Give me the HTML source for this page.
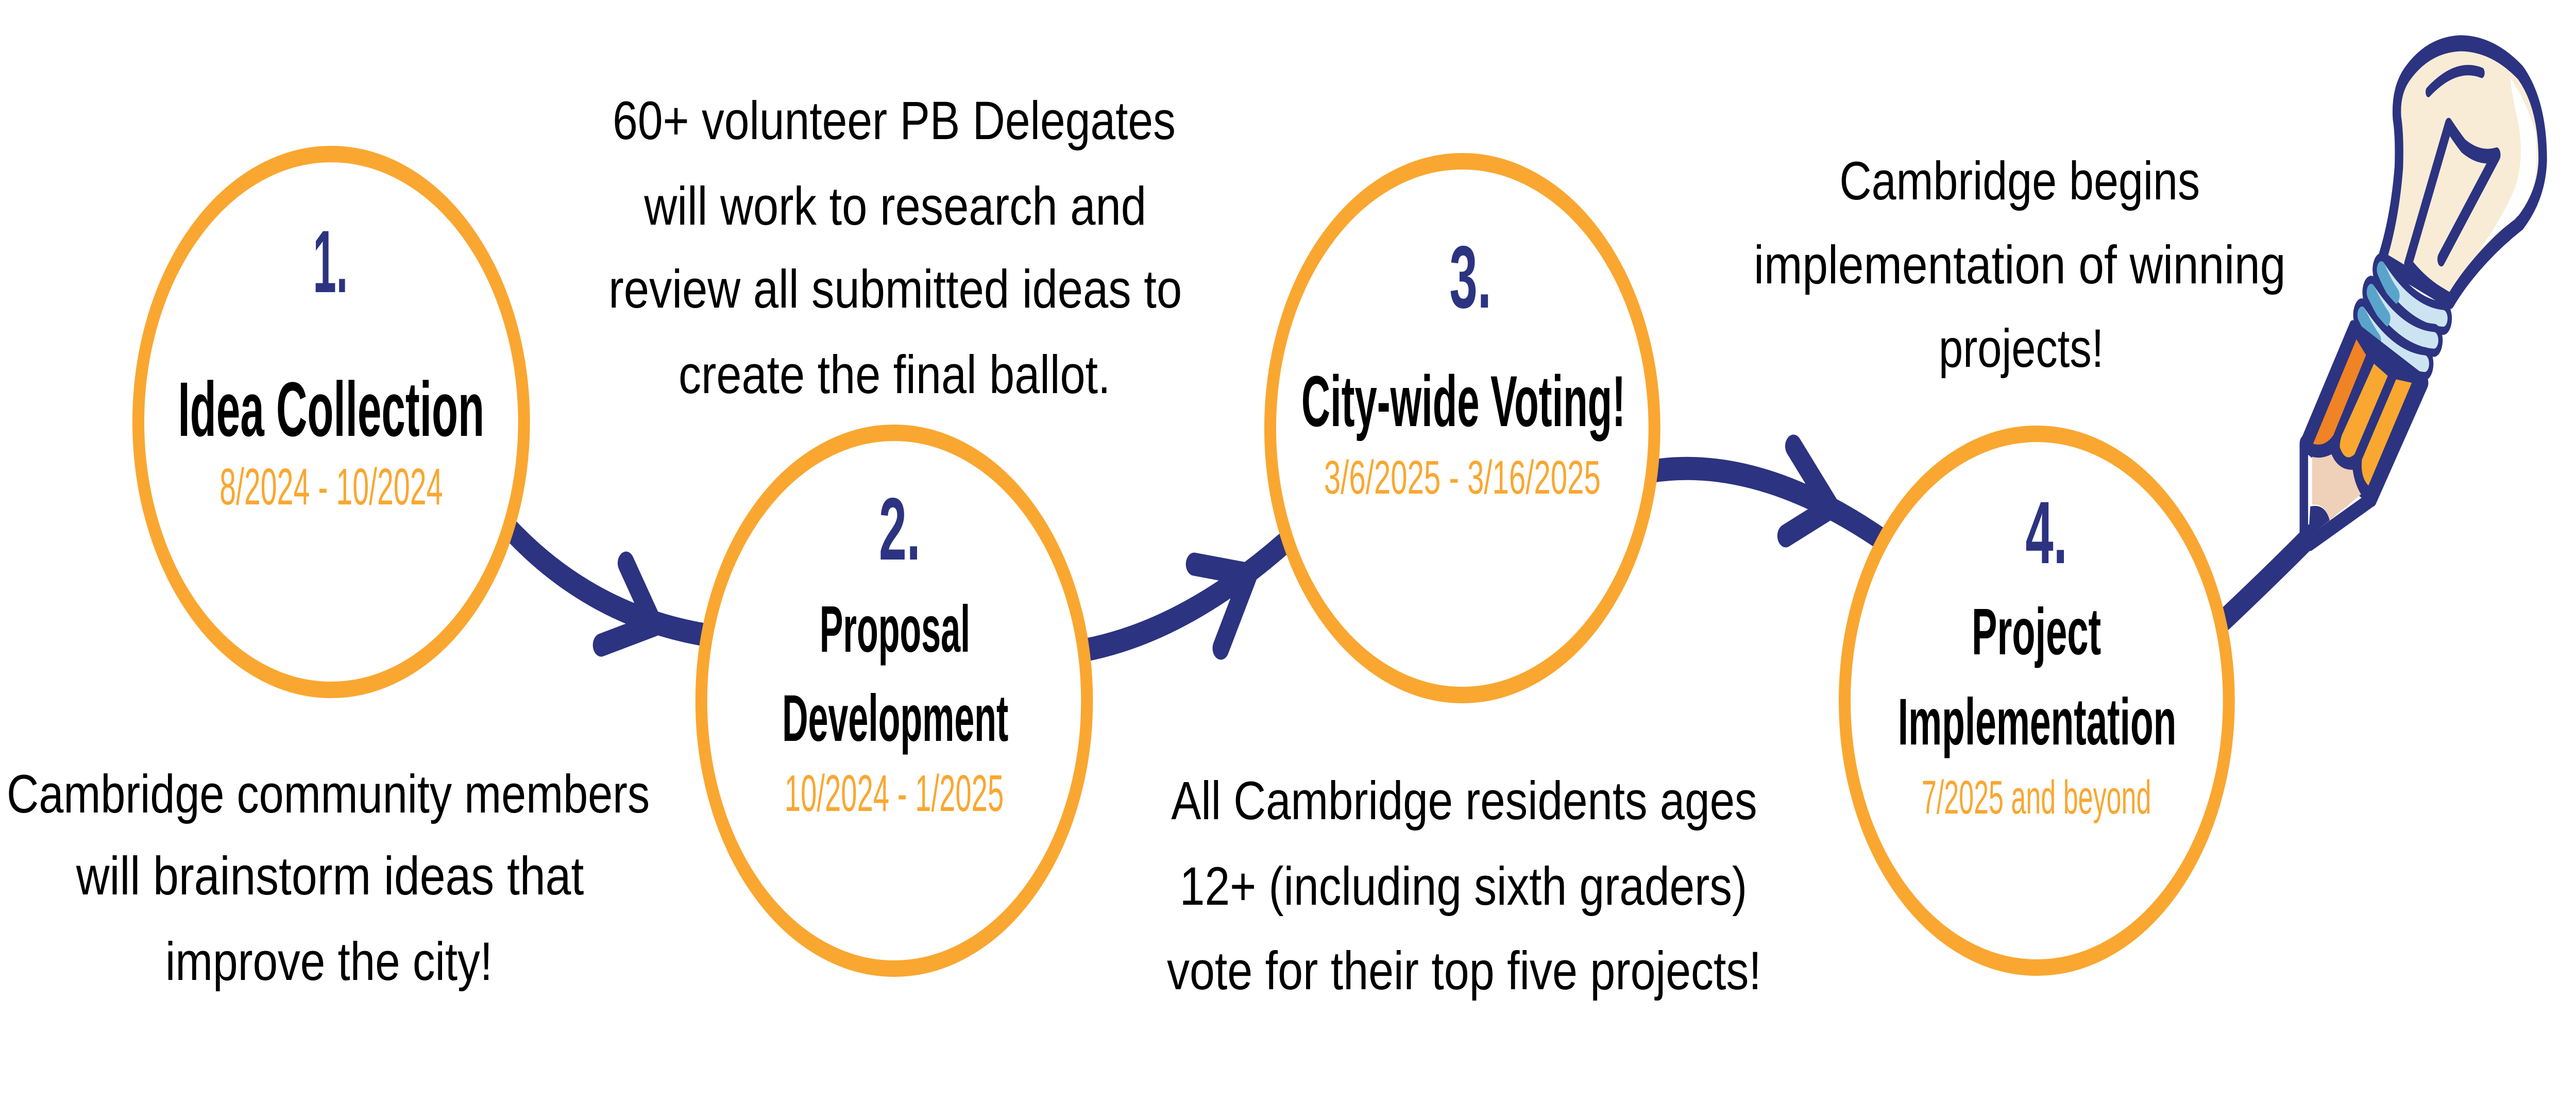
<!DOCTYPE html>
<html><head><meta charset="utf-8">
<style>
html,body{margin:0;padding:0;background:#fff;width:100%;height:100%;overflow:hidden;}
svg{display:block;width:100vw;height:100vh;}
.n{font-family:"Liberation Sans Narrow","Liberation Sans",sans-serif;font-weight:bold;}
.b{font-family:"Liberation Sans",sans-serif;fill:#000;}
</style></head><body>
<svg viewBox="0 0 6946 2168" preserveAspectRatio="none" xmlns="http://www.w3.org/2000/svg">
<rect width="6946" height="2168" fill="#fff"/>
<g fill="none" stroke="#2c3380" stroke-width="45" stroke-linecap="round" stroke-linejoin="round">
<path d="M1330,990 Q1560,1190 1900,1232"/>
<path d="M1688,1093 L1764,1213 L1621,1252"/>
<path d="M2900,1265 Q3200,1230 3500,1030"/>
<path d="M3220,1095 L3368,1115 L3292,1258"/>
<path d="M4450,915 Q4750,880 5100,1060"/>
<path d="M4836,866 L4937,985 L4815,1040"/>
<path d="M5980,1215 Q6120,1120 6230,1040"/>
</g>
<g fill="#fff" stroke="#f9a731" stroke-width="32">
<circle cx="893" cy="819" r="520"/>
<circle cx="2411" cy="1360" r="520"/>
<circle cx="3943" cy="831" r="518"/>
<circle cx="5492" cy="1360" r="518"/>
</g>
<text class="n" x="891" y="567" font-size="172" fill="#2c3380" text-anchor="middle" textLength="94" lengthAdjust="spacingAndGlyphs">1.</text>
<text class="n" x="893" y="846" font-size="150" fill="#000" text-anchor="middle" textLength="826" lengthAdjust="spacingAndGlyphs">Idea Collection</text>
<text class="n" x="893" y="979" font-size="100" fill="#f9a731" style="font-weight:normal" text-anchor="middle" textLength="602" lengthAdjust="spacingAndGlyphs">8/2024 - 10/2024</text>
<text class="n" x="2426" y="1086" font-size="172" fill="#2c3380" text-anchor="middle" textLength="112" lengthAdjust="spacingAndGlyphs">2.</text>
<text class="n" x="2413" y="1265" font-size="128" fill="#000" text-anchor="middle" textLength="406" lengthAdjust="spacingAndGlyphs">Proposal</text>
<text class="n" x="2414" y="1438" font-size="128" fill="#000" text-anchor="middle" textLength="610" lengthAdjust="spacingAndGlyphs">Development</text>
<text class="n" x="2411" y="1574" font-size="100" fill="#f9a731" style="font-weight:normal" text-anchor="middle" textLength="591" lengthAdjust="spacingAndGlyphs">10/2024 - 1/2025</text>
<text class="n" x="3965" y="597" font-size="172" fill="#2c3380" text-anchor="middle" textLength="113" lengthAdjust="spacingAndGlyphs">3.</text>
<text class="n" x="3946" y="827" font-size="140" fill="#000" text-anchor="middle" textLength="874" lengthAdjust="spacingAndGlyphs">City-wide Voting!</text>
<text class="n" x="3943" y="958" font-size="92" fill="#f9a731" style="font-weight:normal" text-anchor="middle" textLength="746" lengthAdjust="spacingAndGlyphs">3/6/2025 - 3/16/2025</text>
<text class="n" x="5518" y="1093" font-size="172" fill="#2c3380" text-anchor="middle" textLength="113" lengthAdjust="spacingAndGlyphs">4.</text>
<text class="n" x="5491" y="1270" font-size="128" fill="#000" text-anchor="middle" textLength="349" lengthAdjust="spacingAndGlyphs">Project</text>
<text class="n" x="5493" y="1445" font-size="128" fill="#000" text-anchor="middle" textLength="751" lengthAdjust="spacingAndGlyphs">Implementation</text>
<text class="n" x="5491" y="1579" font-size="92" fill="#f9a731" style="font-weight:normal" text-anchor="middle" textLength="619" lengthAdjust="spacingAndGlyphs">7/2025 and beyond</text>
<g class="b" font-size="105" text-anchor="middle">
<text x="2411" y="270" textLength="1518" lengthAdjust="spacingAndGlyphs">60+ volunteer PB Delegates</text>
<text x="2414" y="436" textLength="1354" lengthAdjust="spacingAndGlyphs">will work to research and</text>
<text x="2414" y="597" textLength="1546" lengthAdjust="spacingAndGlyphs">review all submitted ideas to</text>
<text x="2412" y="763" textLength="1165" lengthAdjust="spacingAndGlyphs">create the final ballot.</text>
<text x="885" y="1577" textLength="1734" lengthAdjust="spacingAndGlyphs">Cambridge community members</text>
<text x="890" y="1736" textLength="1369" lengthAdjust="spacingAndGlyphs">will brainstorm ideas that</text>
<text x="887" y="1902" textLength="882" lengthAdjust="spacingAndGlyphs">improve the city!</text>
<text x="3948" y="1590" textLength="1580" lengthAdjust="spacingAndGlyphs">All Cambridge residents ages</text>
<text x="3946" y="1756" textLength="1530" lengthAdjust="spacingAndGlyphs">12+ (including sixth graders)</text>
<text x="3948" y="1920" textLength="1603" lengthAdjust="spacingAndGlyphs">vote for their top five projects!</text>
<text x="5446" y="387" textLength="972" lengthAdjust="spacingAndGlyphs">Cambridge begins</text>
<text x="5446" y="550" textLength="1434" lengthAdjust="spacingAndGlyphs">implementation of winning</text>
<text x="5450" y="712" textLength="445" lengthAdjust="spacingAndGlyphs">projects!</text>
</g>
<g transform="translate(6150,40) scale(0.4974,0.676)" stroke-linecap="round" stroke-linejoin="round">
<path d="M555,675 Q620,560 640,420 Q645,330 630,280 Q620,200 690,150 Q800,70 970,65 Q1150,65 1300,150 Q1420,240 1420,400 Q1415,500 1300,580 Q1180,630 1080,690 Q980,750 920,805 L560,690 Z" fill="#f8ecd6" stroke="#2c3380" stroke-width="46"/>
<path d="M1245,165 Q1330,230 1380,320 Q1400,430 1360,490 Q1320,540 1270,570 Q1100,640 1060,670 Q1200,570 1270,480 Q1320,400 1290,300 Q1250,210 1245,165 Z" fill="#fff"/>
<path d="M800,205 Q950,120 1090,150" fill="none" stroke="#2c3380" stroke-width="30"/>
<path d="M690,700 L910,300 Q960,340 990,360 Q1080,400 1170,385 L870,685" fill="none" stroke="#2c3380" stroke-width="42"/>
<path d="M690,700 Q780,760 880,790" fill="none" stroke="#2c3380" stroke-width="42"/>
<g fill="none">
<path d="M545,715 Q700,845 880,855" stroke="#2c3380" stroke-width="95"/>
<path d="M545,715 Q700,845 880,855" stroke="#cce4f2" stroke-width="48"/>
<path d="M545,715 Q580,760 620,790" stroke="#5aa4cc" stroke-width="48"/>
<path d="M490,780 Q650,910 830,918" stroke="#2c3380" stroke-width="95"/>
<path d="M490,780 Q650,910 830,918" stroke="#cce4f2" stroke-width="48"/>
<path d="M490,780 Q530,825 570,855" stroke="#5aa4cc" stroke-width="48"/>
<path d="M440,845 Q600,975 780,985" stroke="#2c3380" stroke-width="95"/>
<path d="M440,845 Q600,975 780,985" stroke="#cce4f2" stroke-width="48"/>
<path d="M440,845 Q480,890 520,920" stroke="#5aa4cc" stroke-width="48"/>
</g>
<path d="M390,880 L780,1040 L500,1375 L125,1215 Z" fill="#2c3380" stroke="#2c3380" stroke-width="40"/>
<path d="M410,915 L462,960 L285,1190 Q240,1225 175,1215 Z" fill="#f08323"/>
<path d="M505,985 L580,1020 L400,1245 Q350,1270 320,1225 Q320,1200 340,1180 Z" fill="#f9a731"/>
<path d="M625,1030 L710,1040 L475,1335 Q430,1310 440,1260 Z" fill="#f9a731"/>
<path d="M170,1252 Q220,1260 275,1245 Q310,1290 390,1290 Q400,1330 435,1360 L265,1435 Q240,1385 170,1390 Z" fill="#efd0b8"/>
<path d="M125,1215 L125,1470 L160,1500 L490,1375" fill="none" stroke="#2c3380" stroke-width="46"/>
<path d="M160,1395 Q240,1385 265,1435 L150,1480 Z" fill="#2c3380"/>
</g>
</svg>
</body></html>
